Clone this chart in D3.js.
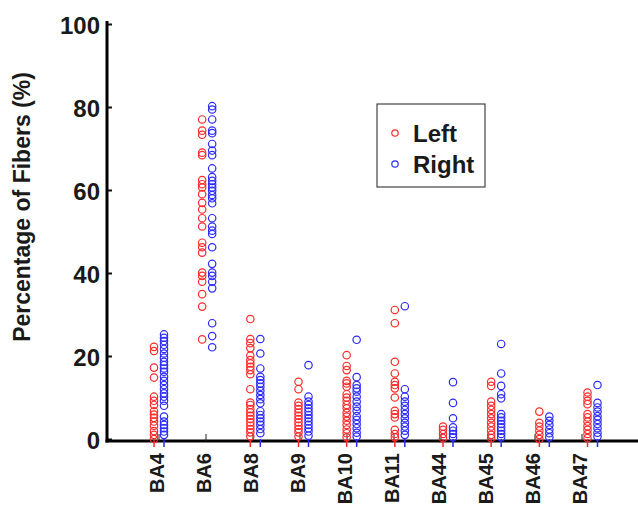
<!DOCTYPE html>
<html>
<head>
<meta charset="utf-8">
<script src="https://cdn.jsdelivr.net/npm/d3@7"></script>
<style>
  html, body { margin: 0; padding: 0; background: #fff; }
  svg { display: block; }
  text { font-family: "Liberation Sans", Arial, sans-serif; font-weight: bold; fill: #1a1a1a; }
</style>
</head>
<body>
<svg id="chart" width="638" height="505"></svg>
<script>
const categories = ["BA4","BA6","BA8","BA9","BA10","BA11","BA44","BA45","BA46","BA47"];
const seriesNames = ["Left","Right"];
const yTicks = [0,20,40,60,80,100];

const leftValues = [
  [22.2,21.2,17.2,14.8,10.2,9.2,8.2,6.7,5.9,5.1,4.2,3.2,1.9,1.0,0],
  [77.0,74.3,73.3,69.0,68.4,62.4,61.4,60.6,59.0,56.9,55.3,53.2,51.2,47.3,46.2,44.9,40.1,39.3,37.9,34.9,31.9,24.0],
  [28.9,24.1,23.1,21.9,20.1,19.0,18.2,17.4,16.6,15.6,12.0,8.8,8.2,7.2,6.4,5.6,4.8,4.0,3.2,2.4,1.6,0.6],
  [13.8,12.0,8.8,8.0,7.2,6.4,5.6,4.8,4.0,3.2,2.4,1.6,0.6],
  [20.2,17.6,16.6,14.0,13.4,12.6,10.8,10.0,9.2,8.2,7.4,6.3,5.4,4.4,3.4,2.3,1.4,0.4],
  [31.1,27.9,18.6,15.8,13.8,13.0,12.2,10.0,6.8,6.0,5.2,2.2,1.2,0.4],
  [3.0,2.2,1.2,0.2],
  [13.8,12.8,9.0,8.0,7.0,6.0,5.0,3.9,3.0,2.0,1.0,0.2],
  [6.6,3.9,3.0,2.0,1.0,0],
  [11.2,10.2,9.2,8.4,6.0,5.2,4.2,3.1,2.2,1.2,0.2]
];
const rightValues = [
  [25.2,24.4,23.6,22.7,21.7,20.6,19.6,18.6,17.8,17.0,16.2,15.0,14.0,13.0,12.0,11.0,10.2,9.2,8.0,5.4,4.2,3.4,2.6,1.8,1.0],
  [80.2,79.4,77.0,74.3,73.7,71.1,69.5,68.4,65.2,63.1,62.2,61.4,60.6,59.8,58.8,58.0,56.8,53.2,51.2,50.2,49.4,46.2,42.2,40.1,39.3,37.9,36.3,27.9,24.8,22.1],
  [24.1,20.6,17.0,15.0,14.2,13.4,12.6,11.6,10.6,9.6,8.6,6.7,5.8,5.0,4.2,3.4,2.4,1.4],
  [17.8,10.2,9.0,8.2,7.4,6.6,5.8,5.0,4.2,3.4,2.6,1.8,0.8],
  [23.9,14.9,13.0,12.2,11.4,10.2,9.0,7.8,6.8,5.5,4.6,3.6,2.6,1.5,0.6],
  [32.0,12.0,10.2,9.0,8.0,7.0,6.0,5.0,3.9,3.0,2.0,1.0],
  [13.7,8.7,5.0,2.8,2.0,1.2,0.4],
  [22.9,15.8,12.8,10.8,9.8,6.0,5.2,4.4,3.6,2.8,2.0,1.2,0.4],
  [5.4,4.4,3.4,2.3,1.4,0.4],
  [13.0,8.7,7.6,6.6,5.5,4.6,3.6,2.6,1.5,0.6]
];
const colors = ["#ff2a2a", "#2a2aff"];

const svg = d3.select("#chart");

const y = d3.scaleLinear().domain([0, 100]).range([439, 24]);
const x = d3.scalePoint().domain(categories).range([159, 592.5]);
const xLabel = d3.scalePoint().domain(categories).range([157, 580]);
const offset = d3.scaleOrdinal().domain(seriesNames).range([-5, 5]);

const axisX = 107, axisY = 441;

// y axis
const yAxis = d3.axisLeft(y).tickValues(yTicks).tickSize(-5).tickPadding(7).tickFormat(d3.format("d"));
const gy = svg.append("g").attr("transform", `translate(${axisX},0)`).call(yAxis);
gy.select(".domain").remove();
gy.selectAll(".tick line").attr("stroke", "#111").attr("stroke-width", 2);
gy.selectAll(".tick text").attr("font-size", 24).attr("dy", "0.4em").style("fill", "#1a1a1a");
svg.append("line").attr("x1", axisX).attr("x2", axisX).attr("y1", 21).attr("y2", axisY + 1.5)
  .attr("stroke", "#000").attr("stroke-width", 3);

// x axis
svg.append("line").attr("x1", axisX - 1.5).attr("x2", 638).attr("y1", axisY).attr("y2", axisY)
  .attr("stroke", "#000").attr("stroke-width", 3);
svg.append("g").selectAll("line").data(categories).join("line")
  .attr("x1", d => xLabel(d) + 2).attr("x2", d => xLabel(d) + 2)
  .attr("y1", axisY).attr("y2", axisY - 7).attr("stroke", "#222").attr("stroke-width", 1);
svg.append("g").selectAll("text").data(categories).join("text")
  .attr("transform", d => `translate(${xLabel(d)},453) rotate(-90)`)
  .attr("text-anchor", "end").attr("dy", "0.36em").attr("font-size", 20)
  .text(d => d);

// series tick marks below axis (only where values reach the axis)
[leftValues, rightValues].forEach((vals, si) => {
  const cats = categories.filter((c, ci) => d3.min(vals[ci]) < 1.5);
  svg.append("g").selectAll("line").data(cats).join("line")
    .attr("x1", d => x(d) + offset(seriesNames[si])).attr("x2", d => x(d) + offset(seriesNames[si]))
    .attr("y1", axisY - 2).attr("y2", axisY + 6)
    .attr("stroke", colors[si]).attr("stroke-width", 1.5);
});

// points
[leftValues, rightValues].forEach((vals, si) => {
  const pts = [];
  vals.forEach((arr, ci) => arr.forEach(v => pts.push({c: categories[ci], v})));
  svg.append("g").selectAll("circle").data(pts).join("circle")
    .attr("cx", d => x(d.c) + offset(seriesNames[si]))
    .attr("cy", d => y(d.v))
    .attr("r", 3.7)
    .attr("fill", "none")
    .attr("stroke", colors[si])
    .attr("stroke-width", 1.2);
});

// y title
svg.append("text").attr("transform", "translate(22,207) rotate(-90)")
  .attr("text-anchor", "middle").attr("dy", "0.36em").attr("font-size", 23)
  .text("Percentage of Fibers (%)");

// legend
const lg = svg.append("g");
lg.append("rect").attr("x", 377).attr("y", 104).attr("width", 108).attr("height", 83)
  .attr("fill", "#fff").attr("stroke", "#444").attr("stroke-width", 1.2);
seriesNames.forEach((s, i) => {
  const cy = 133 + i * 31;
  lg.append("circle").attr("cx", 395).attr("cy", cy).attr("r", 3.2)
    .attr("fill", "none").attr("stroke", colors[i]).attr("stroke-width", 1.2);
  lg.append("text").attr("x", 413).attr("y", cy).attr("dy", "0.36em").attr("font-size", 24).text(s);
});
</script>
</body>
</html>
